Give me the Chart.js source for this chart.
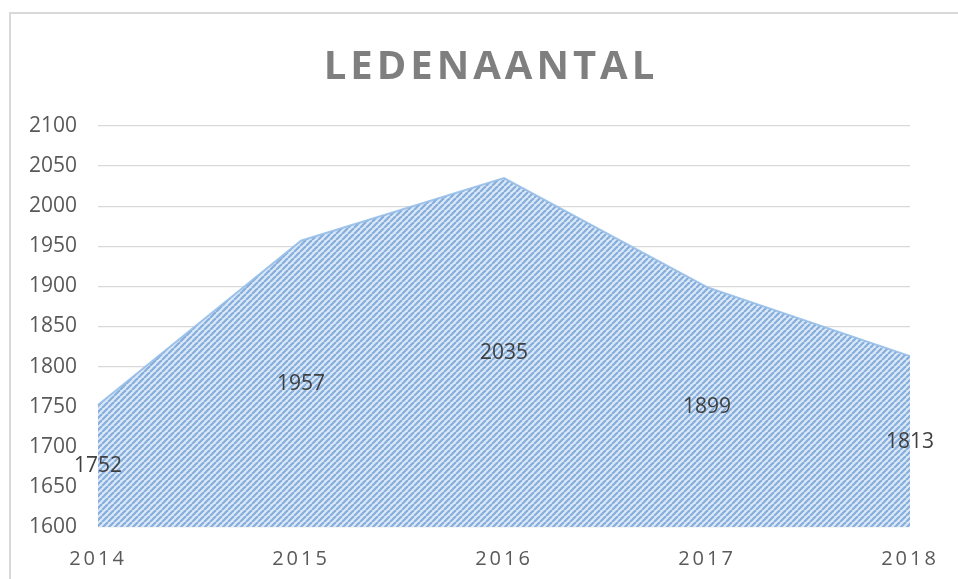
<!DOCTYPE html>
<html>
<head>
<meta charset="utf-8">
<script src="https://cdn.jsdelivr.net/npm/chart.js@4.4.1/dist/chart.umd.min.js"></script>
<style>
  html, body { margin: 0; padding: 0; background: #fff; }
  #wrap { width: 958px; height: 579px; position: relative; }
</style>
</head>
<body>
<div id="wrap"><canvas id="ledenChart"></canvas></div>
<script>
const chartTitle = "LEDENAANTAL";
const years = ["2014", "2015", "2016", "2017", "2018"];
const members = [1752, 1957, 2035, 1899, 1813];
const yMin = 1600;
const yMax = 2100;
const yStep = 50;

function stripePattern() {
    const size = 6;
    const c = document.createElement("canvas");
    c.width = size;
    c.height = size;
    const g = c.getContext("2d");
    g.fillStyle = "#dbe8f7";
    g.fillRect(0, 0, size, size);
    g.strokeStyle = "#86aedc";
    g.lineWidth = 2.2;
    // "/" stripes, drawn with wrap-around so the tile repeats cleanly
    [-size, 0, size].forEach((o) => {
        g.beginPath();
        g.moveTo(o, size);
        g.lineTo(o + size, 0);
        g.stroke();
    });
    return g.createPattern(c, "repeat");
}

const decorations = {
    id: "decorations",
    beforeDraw(chart) {
        const ctx = chart.ctx;
        ctx.save();
        ctx.strokeStyle = "#d9d9d9";
        ctx.lineWidth = 2;
        ctx.strokeRect(10, 13, 980, 600);
        ctx.restore();
    },
    afterDatasetsDraw(chart) {
        // x-axis labels are drawn after this hook (ticks z = 1), spaced out
        chart.ctx.letterSpacing = "3px";
    },
    afterDraw(chart) {
        const ctx = chart.ctx;
        ctx.letterSpacing = "0px";
        const xs = chart.scales.x;
        const ys = chart.scales.y;
        const base = ys.getPixelForValue(yMin);

        ctx.save();
        ctx.font = "21px 'Open Sans'";
        ctx.fillStyle = "#404040";
        ctx.textAlign = "center";
        ctx.textBaseline = "middle";
        members.forEach((v, i) => {
            const x = xs.getPixelForValue(i);
            const y = (ys.getPixelForValue(v) + base) / 2;
            ctx.fillText(String(v), x, y);
        });
        ctx.restore();

        ctx.save();
        ctx.font = "bold 40px 'Open Sans'";
        ctx.letterSpacing = "4px";
        ctx.fillStyle = "#7f7f7f";
        ctx.textAlign = "center";
        ctx.textBaseline = "alphabetic";
        ctx.fillText(chartTitle, 491, 79);
        ctx.restore();
    },
};

const ctx = document.getElementById("ledenChart").getContext("2d");
new Chart(ctx, {
    type: "line",
    data: {
        labels: years,
        datasets: [{
            data: members,
            fill: "start",
            backgroundColor: stripePattern(),
            borderColor: "rgba(150,190,232,0.9)",
            borderWidth: 2,
            pointRadius: 0,
            tension: 0,
        }],
    },
    options: {
        responsive: true,
        maintainAspectRatio: false,
        animation: false,
        layout: { padding: { top: 126, right: 48, left: 0, bottom: 0 } },
        plugins: {
            legend: { display: false },
            title: { display: false },
            tooltip: { enabled: false },
        },
        scales: {
            x: {
                offset: false,
                grid: { display: false },
                border: { display: false },
                ticks: {
                    z: 1,
                    padding: 12,
                    maxRotation: 0,
                    autoSkip: false,
                    color: "#595959",
                    font: { family: "'Open Sans'", size: 20 },
                },
                afterFit: (s) => { s.height = 52; },
            },
            y: {
                min: yMin,
                max: yMax,
                grid: { color: "#d9d9d9", lineWidth: 1.3, drawTicks: false },
                border: { display: false },
                ticks: {
                    stepSize: yStep,
                    padding: 21,
                    color: "#595959",
                    font: { family: "'Open Sans'", size: 21 },
                    callback: (v) => String(v),
                },
                afterFit: (s) => { s.width = 98; },
            },
        },
    },
    plugins: [decorations],
});
</script>
</body>
</html>
